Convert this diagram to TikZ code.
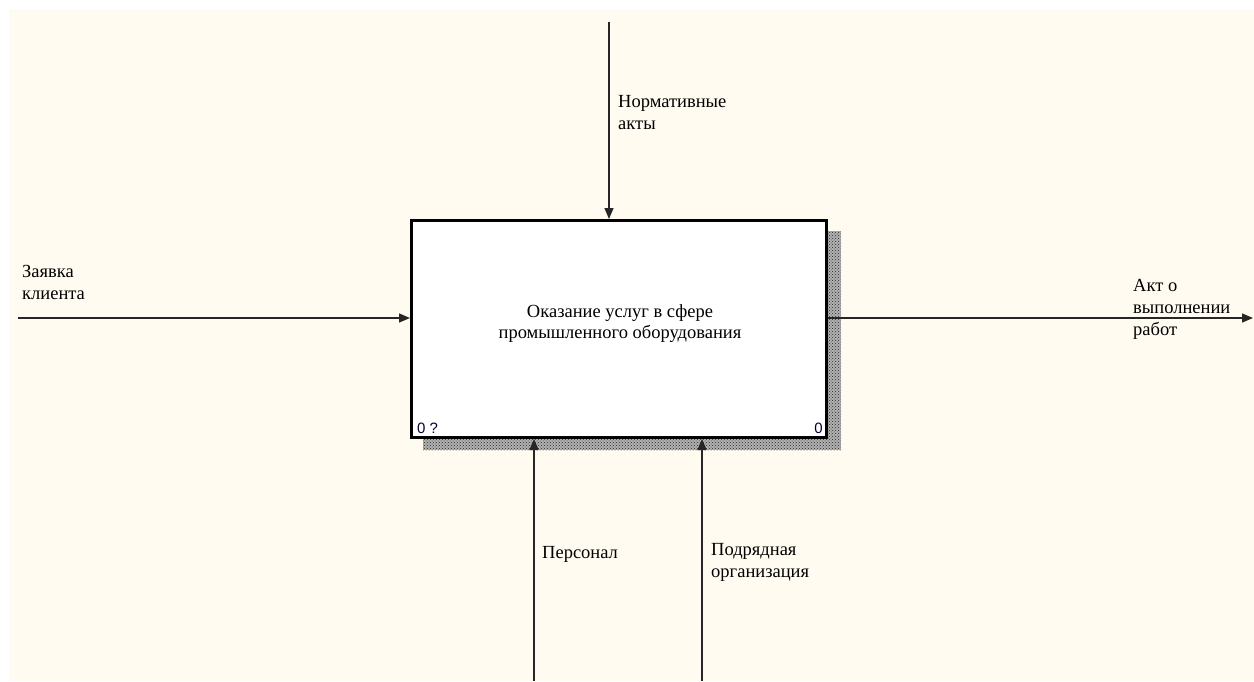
\documentclass[tikz,border=0pt]{standalone}
\usepackage{fontspec}
\setmainfont{Liberation Serif}
\newfontfamily\boxnumfont{Liberation Sans}
\usetikzlibrary{arrows.meta,patterns}
\definecolor{paper}{RGB}{255,251,240}
\tikzset{
    flow/.style={line width=1.4pt, black!85, -{Triangle[length=11pt,width=9pt]}}, % стрелки IDEF0
    tag/.style={anchor=base west, inner sep=0pt, align=left, font=\fontsize{18.5}{22}\selectfont}, % подписи стрелок
    boxnum/.style={anchor=base, inner sep=0pt, text=black!80!blue, font=\boxnumfont\fontsize{15}{15}\selectfont}
}

\begin{document}
\begin{tikzpicture}[x=1pt, y=-1pt]
    \useasboundingbox (0,0) rectangle (1254,681);
    \fill[paper] (9,9) rectangle (1254,681);

    % тень и блок
    \fill[black!30] (423,231) rectangle (841,450);
    \fill[pattern=crosshatch dots, pattern color=black!85] (423,231) rectangle (841,450);
    \node[draw, line width=3pt, fill=white, minimum width=415pt, minimum height=217pt, inner sep=0pt] (act) at (619,329) {};
    \node[align=center, inner sep=0pt, font=\fontsize{18.5}{21}\selectfont] (actname) at (620,324) {Оказание услуг в сфере\\промышленного оборудования};
    \node[boxnum, anchor=base west] (numL) at (417,433) {0 ?};
    \node[boxnum, anchor=base east] (numR) at (823,433) {0};

    % концы стрелок
    \coordinate (ctl) at (609,22);
    \coordinate (inp) at (18,318);
    \coordinate (outp) at (1253,318);
    \coordinate (mechA) at (534,681);
    \coordinate (mechB) at (702,681);

    \draw[flow] (ctl) -- (ctl |- act.north);
    \draw[flow] (inp) -- (inp -| act.west);
    \draw[flow] (act.east |- outp) -- (outp);
    \draw[flow] (mechA) -- (mechA |- act.south);
    \draw[flow] (mechB) -- (mechB |- act.south);

    % подписи
    \node[tag] (ctlname) at (618,129) {Нормативные\\акты};
    \node[tag] (inpname) at (22,299) {Заявка\\клиента};
    \node[tag] (outpname) at (1133,335) {Акт о\\выполнении\\работ};
    \node[tag] (mechAname) at (542,558) {Персонал};
    \node[tag] (mechBname) at (711,577) {Подрядная\\организация};
\end{tikzpicture}
\end{document}
